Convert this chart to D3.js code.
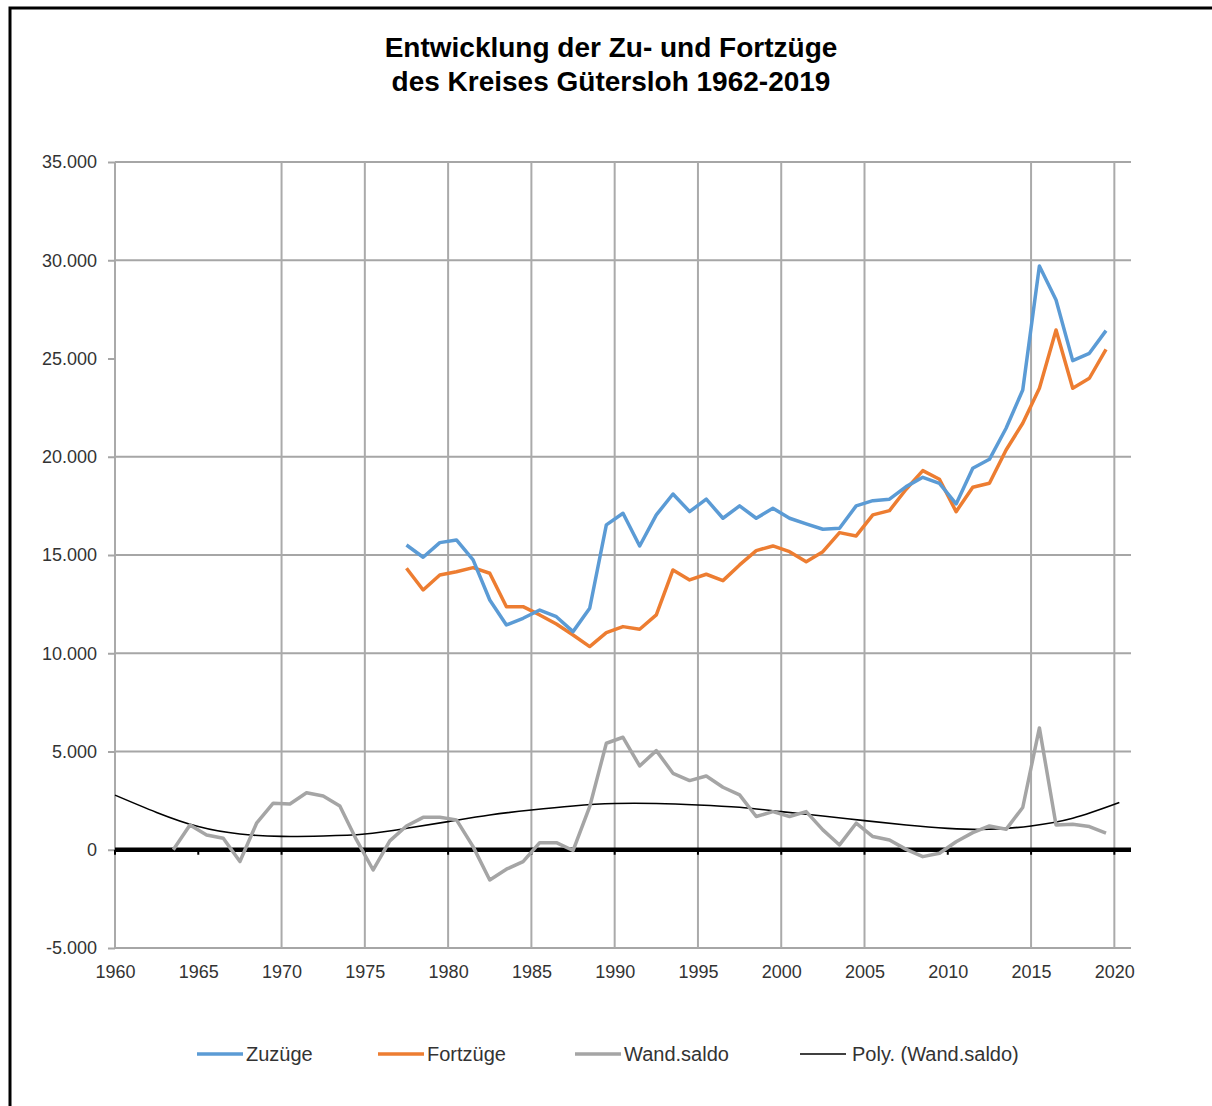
<!DOCTYPE html>
<html>
<head>
<meta charset="utf-8">
<script src="https://cdn.jsdelivr.net/npm/d3@7"></script>
<style>
  body { margin: 0; background: #fff; }
  text { font-family: "Liberation Sans", Arial, sans-serif; }
</style>
</head>
<body>
<svg id="canvas" width="1212" height="1106"></svg>
<script>
// Zu- und Fortzüge Kreis Gütersloh
let zuzugYears = d3.range(1977, 2020)
let zuzuege = [15510, 14885, 15630, 15765, 14750, 12710, 11440, 11780, 12200, 11860,
               11100, 12290, 16530, 17125, 15460, 17040, 18105, 17210, 17840, 16870,
               17500, 16870, 17380, 16870, 16580, 16310, 16360, 17500, 17765, 17840,
               18480, 18955, 18650, 17600, 19415, 19870, 21450, 23400, 29710, 27980,
               24890, 25265, 26420]
let fortzuege = [14325, 13220, 13985, 14150, 14355, 14070, 12370, 12370, 11950, 11490,
                 10930, 10340, 11050, 11355, 11220, 11950, 14240, 13730, 14020, 13695,
                 14495, 15225, 15460, 15170, 14660, 15170, 16140, 15970, 17040, 17260,
                 18345, 19295, 18855, 17205, 18450, 18650, 20345, 21705, 23485, 26450,
                 23485, 23995, 25470]

let saldoYears = d3.range(1963, 2020)
let saldo = [0, 1260, 750, 585, -600, 1350, 2370, 2330, 2900, 2740,
             2230, 500, -1030, 450, 1210, 1650, 1650, 1520, 160, -1540,
             -990, -600, 360, 360, -40, 2190, 5420, 5725, 4265, 5045,
             3890, 3520, 3755, 3180, 2790, 1690, 1940, 1690, 1940, 1010,
             245, 1350, 670, 500, 20, -350, -180, 410, 870, 1210,
             1040, 2150, 6200, 1260, 1300, 1180, 840]

let trendYears = [1960, 1962.5, 1965, 1967.5, 1970, 1972.5, 1975, 1977.5, 1980, 1982.5,
                  1985, 1987.5, 1990, 1992.5, 1995, 1997.5, 2000, 2002.5, 2005, 2007.5,
                  2010, 2012.5, 2015, 2017.5, 2020.3]
let trend = [2780, 1900, 1180, 800, 680, 700, 800, 1090, 1430, 1770,
             2025, 2230, 2350, 2350, 2280, 2160, 1940, 1720, 1480, 1260,
             1090, 1040, 1210, 1600, 2400]

let yTicks = [35000, 30000, 25000, 20000, 15000, 10000, 5000, 0, -5000]
let yGrid = [35000, 30000, 20000, 15000, 10000, 5000, -5000]
let xTicks = [1960, 1965, 1970, 1975, 1980, 1985, 1990, 1995, 2000, 2005, 2010, 2015, 2020]
let xGrid = [1960, 1970, 1975, 1980, 1985, 1990, 1995, 2000, 2005, 2015, 2020]

let legendNames = ['Zuzüge', 'Fortzüge', 'Wand.saldo', 'Poly. (Wand.saldo)']
let colors = ['#5b9bd5', '#ed7d31', '#a5a5a5', '#000000']

let canvas = d3.select('#canvas')

let de = d3.formatLocale({decimal: ',', thousands: '.', grouping: [3], currency: ['', ' €'], minus: '-'})
let fmt = de.format(',d')

let xScale = d3.scaleLinear().domain([1960, 2021]).range([115, 1131])
let yScale = d3.scaleLinear().domain([-5000, 35000]).range([948, 162])

// outer frame
canvas.append('rect')
    .attr('x', 10).attr('y', 8)
    .attr('width', 1300).attr('height', 1200)
    .attr('fill', 'none')
    .attr('stroke', '#000')
    .attr('stroke-width', 3)

// title
let title = canvas.append('text')
    .attr('text-anchor', 'middle')
    .attr('font-size', 28)
    .attr('font-weight', 'bold')
    .attr('fill', '#000')
title.append('tspan').attr('x', 611).attr('y', 57).text('Entwicklung der Zu- und Fortzüge')
title.append('tspan').attr('x', 611).attr('y', 91).text('des Kreises Gütersloh 1962-2019')

// grid
canvas.append('g').selectAll('line')
    .data(yGrid)
    .enter()
    .append('line')
    .attr('x1', xScale(1960)).attr('x2', xScale(2021))
    .attr('y1', (d) => yScale(d)).attr('y2', (d) => yScale(d))
    .attr('stroke', '#a6a6a6').attr('stroke-width', 2)

canvas.append('g').selectAll('line')
    .data(xGrid)
    .enter()
    .append('line')
    .attr('x1', (d) => xScale(d)).attr('x2', (d) => xScale(d))
    .attr('y1', yScale(35000)).attr('y2', yScale(-5000))
    .attr('stroke', '#aaaaaa').attr('stroke-width', 2)

// y axis labels
let yAxis = canvas.append('g')
    .attr('transform', 'translate(' + xScale(1960) + ',0)')
    .call(d3.axisLeft(yScale).tickValues(yTicks).tickSize(7).tickPadding(11).tickFormat(fmt))
yAxis.select('.domain').remove()
yAxis.selectAll('line').attr('stroke', '#a6a6a6').attr('stroke-width', 2)
yAxis.selectAll('text').attr('font-size', 18).attr('fill', '#333')
    .style('font-family', '"Liberation Sans", Arial, sans-serif')

// x axis labels
let xAxis = canvas.append('g')
    .attr('transform', 'translate(0,' + yScale(-5000) + ')')
    .call(d3.axisBottom(xScale).tickValues(xTicks).tickSize(0).tickPadding(17).tickFormat(d3.format('d')))
xAxis.select('.domain').remove()
xAxis.selectAll('text').attr('font-size', 18).attr('fill', '#333')
    .style('font-family', '"Liberation Sans", Arial, sans-serif')

// zero line
canvas.append('line')
    .attr('x1', xScale(1960)).attr('x2', xScale(2021))
    .attr('y1', yScale(0)).attr('y2', yScale(0))
    .attr('stroke', '#000').attr('stroke-width', 4.5)

canvas.append('g').selectAll('line')
    .data(xTicks)
    .enter()
    .append('line')
    .attr('x1', (d) => xScale(d)).attr('x2', (d) => xScale(d))
    .attr('y1', yScale(0)).attr('y2', yScale(0) + 5)
    .attr('stroke', '#000').attr('stroke-width', 2)

// series, points in the middle of each year
let line = d3.line()
    .x((d) => xScale(d[0] + 0.5))
    .y((d) => yScale(d[1]))

let trendLine = d3.line()
    .x((d) => xScale(d[0]))
    .y((d) => yScale(d[1]))
    .curve(d3.curveNatural)

canvas.append('path')
    .datum(d3.zip(trendYears, trend))
    .attr('d', trendLine)
    .attr('fill', 'none')
    .attr('stroke', colors[3])
    .attr('stroke-width', 1.6)

canvas.append('path')
    .datum(d3.zip(saldoYears, saldo))
    .attr('d', line)
    .attr('fill', 'none')
    .attr('stroke', colors[2])
    .attr('stroke-width', 3.5)
    .attr('stroke-linejoin', 'round')

canvas.append('path')
    .datum(d3.zip(zuzugYears, fortzuege))
    .attr('d', line)
    .attr('fill', 'none')
    .attr('stroke', colors[1])
    .attr('stroke-width', 3.5)
    .attr('stroke-linejoin', 'round')

canvas.append('path')
    .datum(d3.zip(zuzugYears, zuzuege))
    .attr('d', line)
    .attr('fill', 'none')
    .attr('stroke', colors[0])
    .attr('stroke-width', 3.5)
    .attr('stroke-linejoin', 'round')

// legend
let legendX = [197, 378, 575, 800]
let legend = canvas.append('g').selectAll('g')
    .data(legendNames)
    .enter()
    .append('g')
    .attr('transform', (d, i) => 'translate(' + legendX[i] + ',1054)')

legend.append('line')
    .attr('x1', 0).attr('x2', 46)
    .attr('y1', 0).attr('y2', 0)
    .attr('stroke', (d, i) => colors[i])
    .attr('stroke-width', (d, i) => i === 3 ? 1.6 : 3.5)

legend.append('text')
    .attr('x', (d, i) => i === 3 ? 52 : 49)
    .attr('y', 7)
    .attr('font-size', 20)
    .attr('fill', '#333')
    .text((d) => d)
</script>
</body>
</html>
